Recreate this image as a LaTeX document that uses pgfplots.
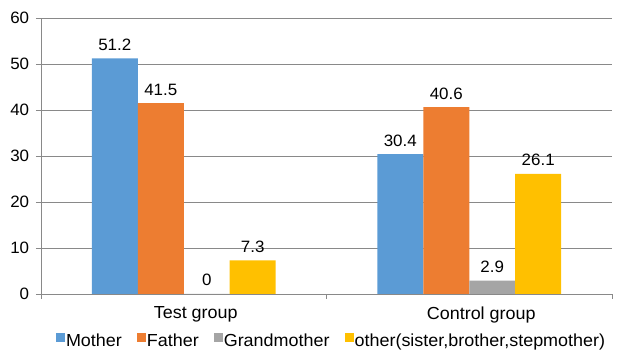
\documentclass[border=0pt]{standalone}
\usepackage{fontspec}
\setmainfont{Liberation Sans}[FakeStretch=1.03]
\usepackage{pgfplots}
\pgfplotsset{compat=1.18}
\definecolor{cM}{HTML}{5B9BD5}
\definecolor{cF}{HTML}{ED7D31}
\definecolor{cG}{HTML}{A5A5A5}
\definecolor{cO}{HTML}{FFC000}
\definecolor{gridc}{HTML}{898989}
\begin{document}
\fontsize{17}{20}\selectfont
\begin{tikzpicture}
\begin{axis}[
  name=ax,
  at={(0,0)}, anchor=south west,
  width=571bp, height=276bp, scale only axis,
  xmin=-0.5, xmax=1.5, ymin=0, ymax=60,
  ybar=0pt, bar width=0.161,
  /pgf/number format/assume math mode=true,
  font=\fontsize{16.5}{19}\selectfont,
  xtick={0,1}, xticklabels={Test group, Control group},
  x tick style={draw=none},
  extra x ticks={-0.5,0.5,1.5}, extra x tick labels={},
  extra x tick style={major tick length=5bp, tick align=outside, x tick style={draw=gridc}},
  ytick={0,10,...,60},
  ymajorgrids, grid style={draw=gridc, line width=0.8pt},
  y tick style={draw=gridc, line width=0.8pt},
  major tick length=5bp, tick align=outside,
  axis x line*=bottom, axis y line*=left,
  axis line style={draw=gridc, line width=0.8pt, -},
  yticklabel style={xshift=-1bp},
  xticklabel style={yshift=-2bp, xshift=12bp, font=\fontsize{17.5}{20}\selectfont},
  nodes near coords,
  every node near coord/.append style={text=black, yshift=2bp},
  legend columns=4,
  legend style={at={(axis description cs:0.508,-0.172)}, anchor=center, draw=none, fill=none,
    /tikz/every even column/.append style={column sep=14bp},
    inner sep=0pt, nodes={inner sep=1bp, font=\fontsize{17.5}{20}\selectfont}},
  legend image code/.code={\fill[#1] (1bp,-0.5bp) rectangle (10bp,8.5bp);},
]
\addplot[fill=cM, draw=none] coordinates {(0,51.2) (1,30.4)};
\addplot[fill=cF, draw=none] coordinates {(0,41.5) (1,40.6)};
\addplot[fill=cG, draw=none] coordinates {(0,0) (1,2.9)};
\addplot[fill=cO, draw=none] coordinates {(0,7.3) (1,26.1)};
\legend{Mother, Father, Grandmother, {other(sister,brother,stepmother)}}
\end{axis}
\pgfresetboundingbox
\path ([xshift=-41bp,yshift=-66bp]ax.south west) rectangle ([xshift=7bp,yshift=18bp]ax.north east);
\end{tikzpicture}
\end{document}
